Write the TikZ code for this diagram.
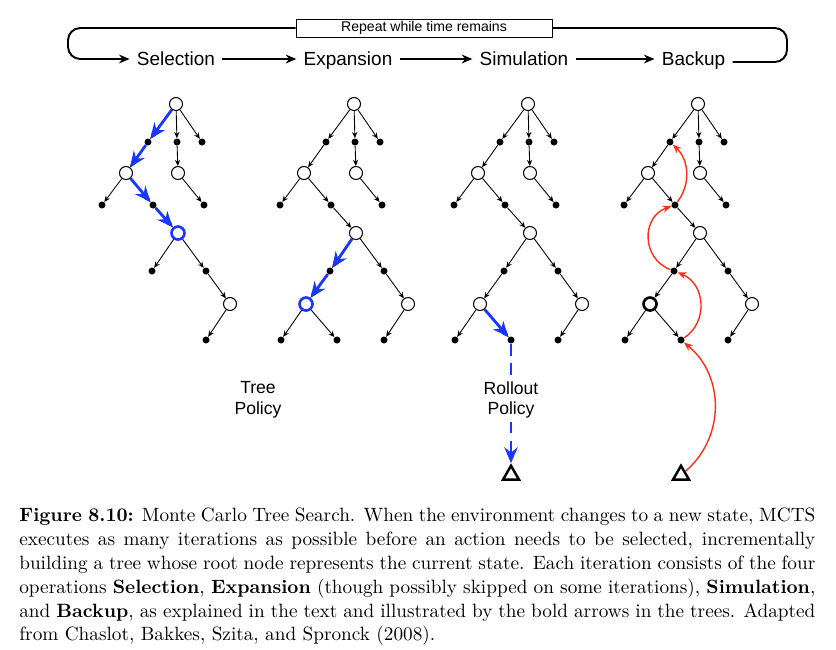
\documentclass[tikz,border=0pt]{standalone}
\usepackage{fontspec}
\usepackage{xcolor}
\usepackage{tikz}
\usetikzlibrary{arrows.meta, positioning, shapes.geometric, calc}
\newfontfamily\diagfont{Liberation Sans}
\definecolor{mctsblue}{RGB}{25,55,255}
\definecolor{mctsred}{RGB}{255,45,20}

\begin{document}
\begin{tikzpicture}[
    state/.style={draw, circle, fill=white, minimum size=0.26cm, inner sep=0pt, line width=0.6pt},
    newstate/.style={state, draw=mctsblue, line width=1.5pt},
    leafstate/.style={state, line width=1.5pt},
    act/.style={circle, fill=black, minimum size=0.14cm, inner sep=0pt},
    terminal/.style={draw, regular polygon, regular polygon sides=3, minimum size=0.37cm, inner sep=0pt, line width=1.4pt},
    edge/.style={-{Stealth[length=3.5pt, width=3pt]}, line width=0.5pt},
    treepath/.style={-{Stealth[length=9pt, width=7.5pt]}, draw=mctsblue, line width=1.6pt},
    backpath/.style={-{Stealth[length=5pt, width=4pt]}, draw=mctsred, line width=0.8pt},
    phase/.style={font=\diagfont\fontsize{10.8}{13}\selectfont, text height=7.7pt, text depth=0pt, inner xsep=4pt},
    policy/.style={font=\diagfont\fontsize{10}{11.8}\selectfont, align=center, inner sep=2pt},
    flow/.style={-{Stealth[length=6pt, width=5pt]}, line width=1.1pt, rounded corners=7pt},
]
    \useasboundingbox (0,0) rectangle (16.72,-12.98);

    % loop of the four phases
    \node[draw, line width=0.5pt, minimum width=5.12cm, minimum height=0.36cm, inner sep=0pt,
          font=\diagfont\fontsize{8}{9}\selectfont] (repeat) at (8.48,-0.56) {Repeat while time remains};
    \node[phase] (selection) at (3.52,-1.18) {Selection};
    \node[phase] (expansion) at (6.96,-1.18) {Expansion};
    \node[phase] (simulation) at (10.48,-1.18) {Simulation};
    \node[phase] (backup) at (13.87,-1.18) {Backup};
    \coordinate (loopL) at (1.36,-1.18);
    \coordinate (loopR) at (15.74,-1.24);
    \draw[flow] (repeat.west) -| (loopL) -- (selection);
    \draw[flow] (selection) -- (expansion);
    \draw[flow] (expansion) -- (simulation);
    \draw[flow] (simulation) -- (backup);
    \draw[line width=1.1pt, rounded corners=7pt] ([yshift=-0.06cm]backup.east) -- (loopR) |- (repeat.east);

    % the four trees
    \foreach \tn/\x/\st in {sel/3.52/newstate, exp/7.08/state, sim/10.56/state, bak/13.96/state} {
        \begin{scope}[shift={(\x,-2.08)}]
            \node[state] (\tn-r) at (0,0) {};
            \node[act] (\tn-a1) at (-0.56,-0.76) {};
            \node[act] (\tn-a2) at (0.02,-0.76) {};
            \node[act] (\tn-a3) at (0.52,-0.76) {};
            \node[state] (\tn-s1) at (-1.0,-1.38) {};
            \node[state] (\tn-s2) at (0.04,-1.38) {};
            \node[act] (\tn-b1) at (-1.48,-2.02) {};
            \node[act] (\tn-b2) at (-0.46,-2.02) {};
            \node[act] (\tn-b3) at (0.56,-2.02) {};
            \node[\st] (\tn-s3) at (0.04,-2.58) {};
            \node[act] (\tn-c1) at (-0.48,-3.34) {};
            \node[act] (\tn-c2) at (0.6,-3.34) {};
            \node[state] (\tn-s5) at (1.08,-4.0) {};
            \node[act] (\tn-d3) at (0.6,-4.72) {};
        \end{scope}
        \foreach \u/\v in {r/a1, r/a2, r/a3, a1/s1, a2/s2, s1/b1, s1/b2, s2/b3, b2/s3, s3/c1, s3/c2, c2/s5, s5/d3}
            \draw[edge] (\tn-\u) -- (\tn-\v);
    }
    \foreach \tn/\x/\st in {exp/7.08/newstate, sim/10.56/state, bak/13.96/leafstate} {
        \begin{scope}[shift={(\x,-2.08)}]
            \node[\st] (\tn-s4) at (-0.96,-4.0) {};
            \node[act] (\tn-d1) at (-1.46,-4.72) {};
            \node[act] (\tn-d2) at (-0.34,-4.72) {};
        \end{scope}
        \foreach \u/\v in {c1/s4, s4/d1, s4/d2}
            \draw[edge] (\tn-\u) -- (\tn-\v);
    }

    % selection and expansion
    \draw[treepath] (sel-r) -- (sel-a1);
    \draw[treepath] (sel-a1) -- (sel-s1);
    \draw[treepath] (sel-s1) -- (sel-b2);
    \draw[treepath] (sel-b2) -- (sel-s3);
    \draw[treepath] (exp-s3) -- (exp-c1);
    \draw[treepath] (exp-c1) -- (exp-s4);
    \node[policy] (treepol) at (5.16,-8.0) {Tree\\Policy};

    % simulation
    \node[terminal] (sim-end) at (sim-d2 |- 0,-9.5) {};
    \draw[treepath] (sim-s4) -- (sim-d2);
    \draw[treepath, dash pattern=on 7pt off 4pt] (sim-d2) -- (sim-end);
    \node[policy, fill=white] (rollpol) at (sim-d2 |- 0,-8.0) {Rollout\\Policy};

    % backup
    \node[terminal] (bak-end) at (bak-d2 |- 0,-9.5) {};
    \draw[backpath] (bak-end) to[bend right=50, looseness=1.04] (bak-d2);
    \draw[backpath] (bak-d2) to[bend right=62, looseness=1.15] (bak-c1);
    \draw[backpath] (bak-c1) to[bend left=70, looseness=1.27] (bak-b2);
    \draw[backpath] (bak-b2) to[bend right=42] (bak-a1);

    \node[anchor=north west, text width=15.92cm, inner sep=0pt, align=justify,
          font=\fontsize{10.95}{13.6}\selectfont] (caption) at (0.38,-10.15) {%
        \textbf{Figure 8.10:} Monte Carlo Tree Search. When the environment changes to a new state, MCTS\linebreak
        executes as many iterations as possible before an action needs to be selected, incrementally\linebreak
        building a tree whose root node represents the current state. Each iteration consists of the four\linebreak
        operations \textbf{Selection}, \textbf{Expansion} (though possibly skipped on some iterations), \textbf{Simulation},\linebreak
        and \textbf{Backup}, as explained in the text and illustrated by the bold arrows in the trees. Adapted\linebreak
        from Chaslot, Bakkes, Szita, and Spronck (2008).};
\end{tikzpicture}
\end{document}
